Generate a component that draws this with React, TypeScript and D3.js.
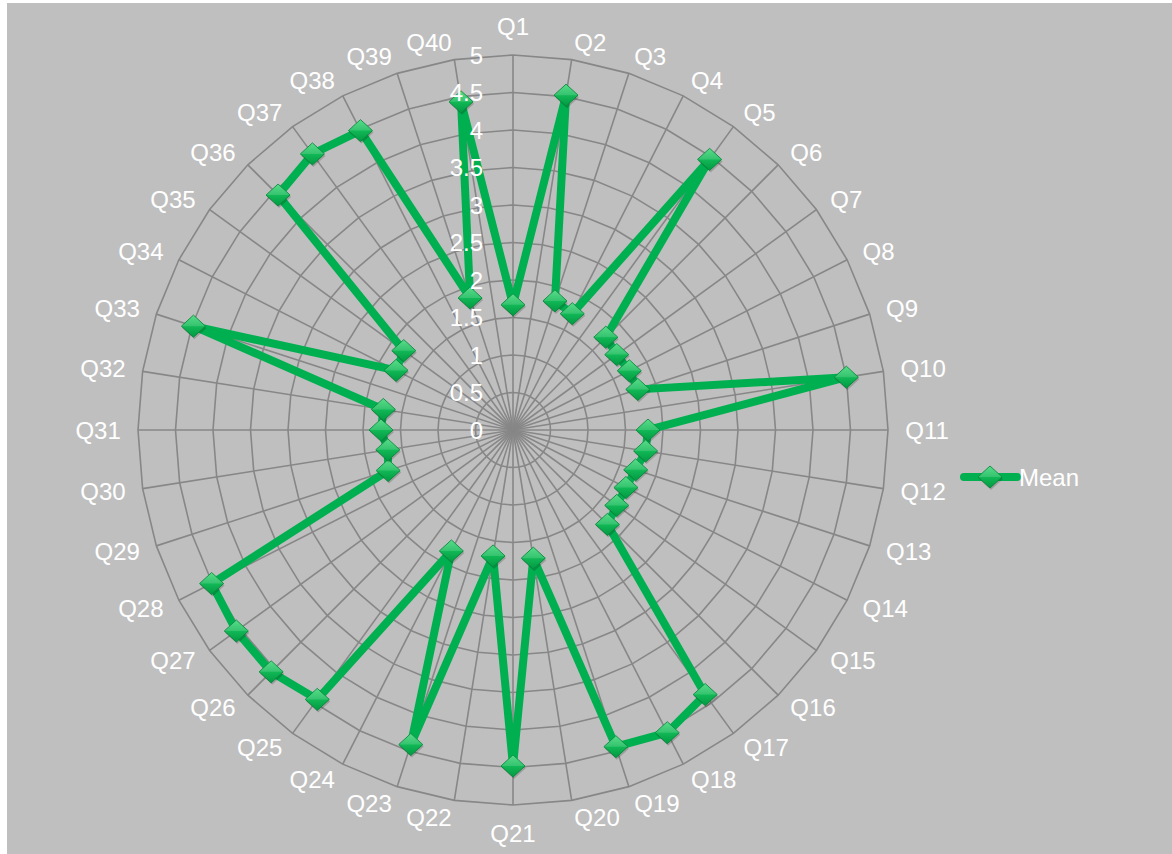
import React from "react";
import * as d3 from "d3";

const width = 1165;
const height = 851;
const cx = 506;
const cy = 427;

const categories = d3.range(1, 41).map(i => `Q${i}`);
const meanValues = [
  1.67, 4.52, 1.81, 1.74, 4.46, 1.75, 1.71, 1.74, 1.75, 4.5,
  1.8, 1.79, 1.72, 1.69, 1.71, 1.78, 4.36, 4.53, 4.44, 1.73,
  4.48, 1.7, 4.41, 1.81, 4.44, 4.56, 4.56, 4.51, 1.75, 1.69,
  1.76, 1.75, 4.48, 1.75, 1.8, 4.43, 4.55, 4.48, 1.85, 4.43
];
const ticks = [0, 0.5, 1, 1.5, 2, 2.5, 3, 3.5, 4, 4.5, 5];
const seriesName = "Mean";

const font = "'Liberation Sans', Arial, sans-serif";
const green = "#00b050";

const Diamond = ({ x, y }: { x: number; y: number }) => (
  <g transform={`translate(${x},${y})`}>
    <path d="M0,-11 L12,0 L0,11 L-12,0 Z" fill="rgba(0,0,0,0.18)" transform="translate(1,2)" />
    <path d="M0,-11 L12,0 L0,11 L-12,0 Z" fill="url(#dgrad)" stroke="#078a3c" strokeWidth={1} />
    <path d="M0,-11 L12,0 L-12,0 Z" fill="rgba(255,255,255,0.15)" />
  </g>
);

export default function App() {
  const r = d3.scaleLinear().domain([0, 5]).range([0, 375]);
  const n = categories.length;
  const angle = (i: number) => (i * 2 * Math.PI) / n;
  const pt = (i: number, v: number): [number, number] => [
    Math.sin(angle(i)) * r(v),
    -Math.cos(angle(i)) * r(v)
  ];

  const ringLine = d3.line().curve(d3.curveLinearClosed);
  const seriesLine = d3
    .lineRadial<number>()
    .angle((_, i) => angle(i))
    .radius(d => r(d))
    .curve(d3.curveLinearClosed);

  return (
    <div style={{ position: "absolute", left: 0, top: 0, width: 1172, height: 854, background: "#ffffff" }}>
      <svg
        width={width}
        height={height}
        style={{ position: "absolute", left: 7, top: 3, display: "block" }}
      >
        <defs>
          <linearGradient id="dgrad" x1="0" y1="0" x2="0" y2="1">
            <stop offset="0%" stopColor="#3ad774" />
            <stop offset="50%" stopColor="#12b856" />
            <stop offset="100%" stopColor="#019a42" />
          </linearGradient>
        </defs>
        <rect width={width} height={height} fill="#bfbfbf" />
        <g transform={`translate(${cx},${cy})`}>
          {ticks.slice(1).map(t => (
            <path
              key={t}
              d={ringLine(d3.range(n).map(i => pt(i, t))) || ""}
              fill="none"
              stroke="#878787"
              strokeWidth={1.6}
            />
          ))}
          {categories.map((c, i) => {
            const [x, y] = pt(i, 5);
            return <line key={c} x1={0} y1={0} x2={x} y2={y} stroke="#878787" strokeWidth={1.6} />;
          })}

          <path d={seriesLine(meanValues) || ""} fill="none" stroke={green} strokeWidth={8} strokeLinejoin="miter" strokeMiterlimit={3} />
          {meanValues.map((v, i) => {
            const [x, y] = pt(i, v);
            return <Diamond key={i} x={x} y={y} />;
          })}

          {ticks.map(t => (
            <text
              key={t}
              x={-30}
              y={-r(t)}
              textAnchor="end"
              dominantBaseline="central"
              fill="#ffffff"
              fontFamily={font}
              fontSize={24}
            >
              {t}
            </text>
          ))}

          {categories.map((c, i) => {
            const a = angle(i);
            const s = Math.sin(a);
            const co = Math.cos(a);
            const [x, y] = pt(i, 5.23);
            const anchor = s > 0.05 ? "start" : s < -0.05 ? "end" : "middle";
            const dy = anchor === "middle" ? -co * 11 : 0;
            return (
              <text
                key={c}
                x={x}
                y={y + dy}
                textAnchor={anchor}
                dominantBaseline="central"
                fill="#ffffff"
                fontFamily={font}
                fontSize={24}
              >
                {c}
              </text>
            );
          })}
        </g>

        <g transform="translate(953,474)">
          <line x1={4} x2={57} y1={0} y2={0} stroke={green} strokeWidth={8} strokeLinecap="round" />
          <Diamond x={30} y={0} />
          <text x={59} y={0} dominantBaseline="central" fill="#ffffff" fontFamily={font} fontSize={24}>
            {seriesName}
          </text>
        </g>
      </svg>
    </div>
  );
}
